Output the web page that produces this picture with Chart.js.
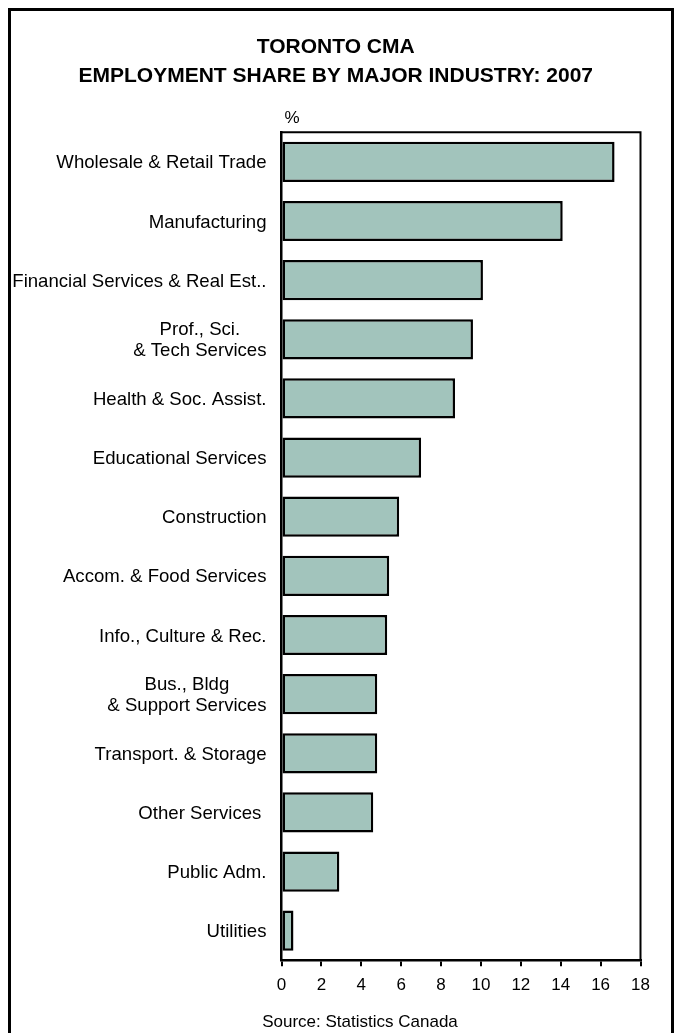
<!DOCTYPE html>
<html>
<head>
<meta charset="utf-8">
<script src="https://cdn.jsdelivr.net/npm/chart.js@4.4.1/dist/chart.umd.min.js"></script>
<style>
  html, body { margin: 0; padding: 0; background: #fff; }
  #wrap { position: relative; width: 676px; height: 1033px; overflow: hidden; }
  #frame { position: absolute; left: 8px; top: 8px; width: 666px; height: 1100px; border: 3px solid #000; box-sizing: border-box; }
  #chart { position: absolute; left: 0; top: 0; }
</style>
</head>
<body>
<div id="wrap">
  <div id="frame"></div>
  <canvas id="chart" width="676" height="1033"></canvas>
</div>
<script>
// industry labels, one array entry per line
const industries = [
  ["Wholesale & Retail Trade"],
  ["Manufacturing"],
  ["Financial Services & Real Est.."],
  ["Prof., Sci.", "& Tech Services"],
  ["Health & Soc. Assist."],
  ["Educational Services"],
  ["Construction"],
  ["Accom. & Food Services"],
  ["Info., Culture & Rec."],
  ["Bus., Bldg", "& Support Services"],
  ["Transport. & Storage"],
  ["Other Services "],
  ["Public Adm."],
  ["Utilities"]
];

// employment share, %
const shares = [16.7, 14.1, 10.1, 9.6, 8.7, 7.0, 5.9, 5.4, 5.3, 4.8, 4.8, 4.6, 2.9, 0.6];

const xTicks = [0, 2, 4, 6, 8, 10, 12, 14, 16, 18];

const titleLines = ["TORONTO CMA", "EMPLOYMENT SHARE BY MAJOR INDUSTRY: 2007"];
const unitLabel = "%";
const sourceNote = "Source: Statistics Canada";

const FONT = "'Liberation Sans', Arial, sans-serif";
Chart.defaults.font.family = FONT;
Chart.defaults.color = "#000";

// category labels with centred lines, the plot frame and the loose notes
const extras = {
  id: "extras",
  afterDraw(chart) {
    const { ctx, chartArea, scales: { y } } = chart;
    ctx.save();

    ctx.strokeStyle = "#000";
    ctx.lineWidth = 2;
    ctx.beginPath();
    ctx.moveTo(chartArea.left, chartArea.top);
    ctx.lineTo(chartArea.right, chartArea.top);
    ctx.lineTo(chartArea.right, chartArea.bottom);
    ctx.stroke();

    ctx.fillStyle = "#000";
    ctx.font = "18.6px " + FONT;
    ctx.textAlign = "center";
    ctx.textBaseline = "middle";
    const right = chartArea.left - 15;
    const lineH = 21;
    industries.forEach((lines, i) => {
      const yc = y.getPixelForValue(i) + 1.5;
      const w = Math.max(...lines.map(t => ctx.measureText(t).width));
      lines.forEach((t, j) => {
        ctx.fillText(t, right - w / 2, yc + (j - (lines.length - 1) / 2) * lineH);
      });
    });

    ctx.font = "17px " + FONT;
    ctx.textAlign = "left";
    ctx.textBaseline = "alphabetic";
    ctx.fillText(unitLabel, chartArea.left + 3, 123);

    ctx.textAlign = "center";
    ctx.fillText(sourceNote, 360, 1027);
    ctx.restore();
  }
};

new Chart(document.getElementById("chart"), {
  type: "bar",
  data: {
    labels: industries,
    datasets: [{
      data: shares,
      backgroundColor: "#a2c4bc",
      borderColor: "#000",
      borderWidth: 2.5,
      borderSkipped: false,
      barPercentage: 0.68,
      categoryPercentage: 1
    }]
  },
  options: {
    indexAxis: "y",
    responsive: false,
    animation: false,
    layout: { padding: { left: 31, right: 35.5, top: 0, bottom: 0 } },
    plugins: {
      legend: { display: false },
      tooltip: { enabled: false },
      title: {
        display: true,
        text: titleLines,
        color: "#000",
        font: { size: 21, weight: "bold", lineHeight: 29 / 21 },
        padding: { top: 32.5, bottom: 41.8 }
      }
    },
    scales: {
      x: {
        min: 0,
        max: 18,
        afterBuildTicks: s => { s.ticks = xTicks.map(v => ({ value: v })); },
        afterFit: s => { s.height = 72.7; },
        grid: { drawOnChartArea: false, drawTicks: true, tickLength: 6, color: "#000", lineWidth: 2 },
        border: { color: "#000", width: 2.5 },
        ticks: { font: { size: 17 }, color: "#000", padding: 9, maxRotation: 0 }
      },
      y: {
        afterFit: s => { s.width = 250.5; },
        grid: { display: false },
        border: { color: "#000", width: 2.5 },
        ticks: { display: false }
      }
    }
  },
  plugins: [extras]
});
</script>
</body>
</html>
